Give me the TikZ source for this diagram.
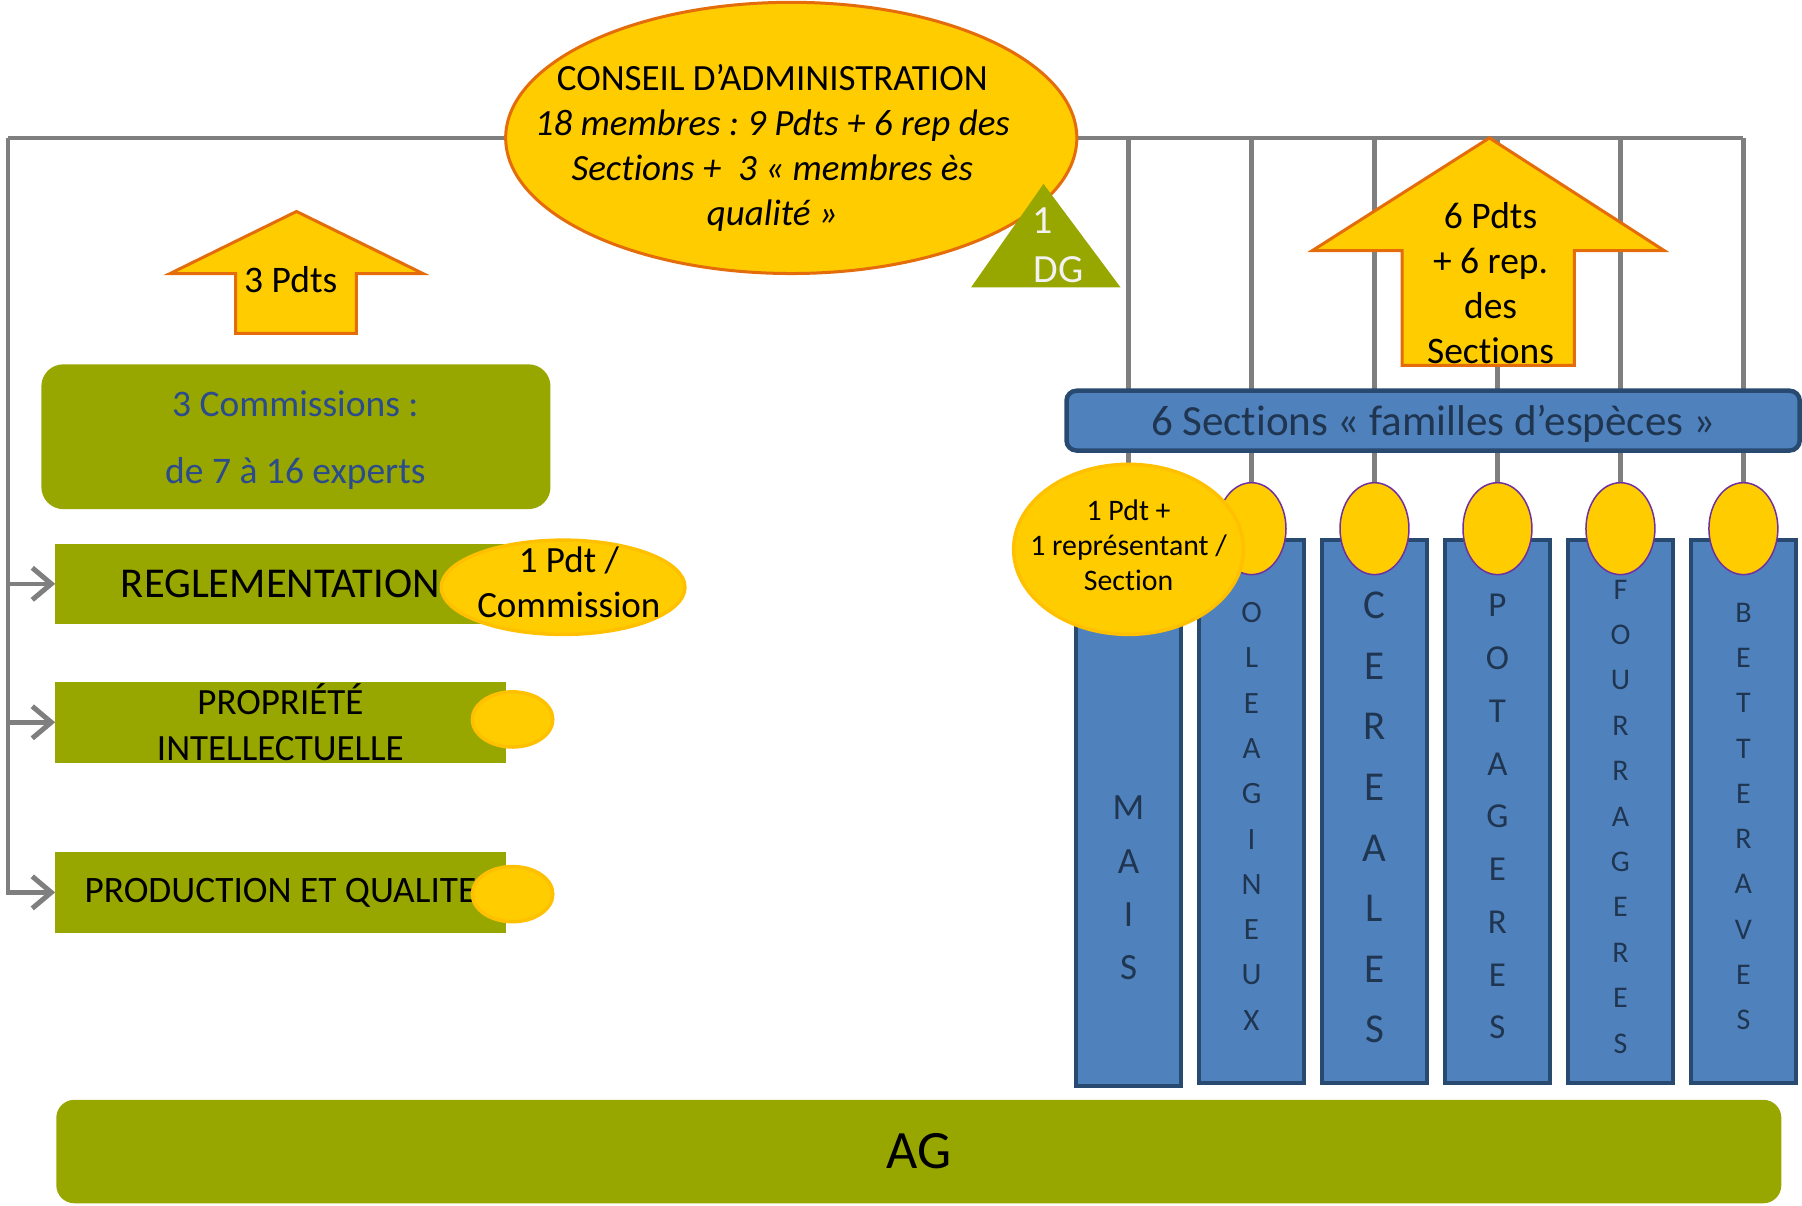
\documentclass[tikz,border=0pt]{standalone}
\usepackage{fontspec}
\setmainfont{Carlito}[Ligatures=NoCommon]
\usetikzlibrary{shapes.geometric,arrows.meta,backgrounds}
\definecolor{cgold}{HTML}{FFCC00}
\definecolor{corange}{HTML}{E46C0A}
\definecolor{cgoldline}{HTML}{FFC000}
\definecolor{cpurple}{HTML}{7030A0}
\definecolor{colive}{HTML}{98A600}
\definecolor{cblue}{HTML}{4F81BD}
\definecolor{cnavy}{HTML}{294A70}
\definecolor{ctext}{HTML}{1F3550}
\definecolor{cgray}{HTML}{7F7F7F}
\definecolor{ccomm}{HTML}{2B4C8C}
\def\U{1.1492pt}
\frenchspacing
\newcommand\myfs[2]{\fontsize{#1}{#2}\selectfont}
\newcommand\colletters[6]{\foreach \l [count=\i from 0] in {#6}{\node[colletter,font=\myfs{#5}{#5}] (#1-\i) at (#2,#3+\i*#4) {\l};}}
\begin{document}
\begin{tikzpicture}[x=1.1492pt,y=-1.1492pt,
  link/.style={draw=cgray,line width=4.5pt},
  linkarrow/.style={link,-{Straight Barb[length=19pt,width=32pt,line width=5pt]}},
  olivebox/.style={rectangle,fill=colive,draw=none,inner sep=0,outer sep=0},
  goldoval/.style={ellipse,fill=cgold,draw=cgoldline,line width=3.5pt,inner sep=0},
  colbox/.style={rectangle,fill=cblue,draw=cnavy,line width=4pt,inner sep=0,minimum width=92*\U},
  colletter/.style={text=ctext,inner sep=0},
  topoval/.style={ellipse,fill=cgold,draw=cpurple,line width=1.5pt,inner sep=0,minimum width=60*\U,minimum height=80*\U},
  uparrow/.style={fill=cgold,draw=corange,line width=3pt,line join=miter},
  txt/.style={inner sep=0,align=center}]
\useasboundingbox (0,0) rectangle (1568,1049);

% Conseil d'administration
\node[ellipse,fill=cgold,draw=corange,line width=3pt,minimum width=497*\U,minimum height=236*\U,inner sep=0] (ca) at (688.5,120) {};
\node[txt,font=\myfs{37}{45}] (catext) at (672,129) {CONSEIL D’ADMINISTRATION\\\textit{18 membres : 9 Pdts + 6 rep des}\\\textit{Sections +~~3 « membres ès}\\\textit{qualité »}};

% DG triangle
\fill[colive] (908,160) -- (975,250) -- (845,250) -- cycle;
\node[txt,text=white!95!black,font=\myfs{40}{40}] (dg1) at (907,192) {1};
\node[txt,text=white!95!black,font=\myfs{40}{40}] (dg2) at (921,235) {DG};

% 3 Pdts arrow
\filldraw[uparrow] (258,184) -- (368,238) -- (310,238) -- (310,290) -- (205,290) -- (205,238) -- (148,238) -- cycle;
\node[txt,font=\myfs{37.5}{45}] (pdts3) at (253,243) {3 Pdts};

% 6 Pdts arrow
\filldraw[uparrow] (1296,120) -- (1448,218) -- (1370,218) -- (1370,318) -- (1220,318) -- (1220,218) -- (1142,218) -- cycle;
\node[txt,font=\myfs{37.5}{45}] (pdts6) at (1297,246) {6 Pdts\\+ 6 rep.\\des\\Sections};

% Sections bar
\node[rectangle,rounded corners=10pt,fill=cblue,draw=cnavy,line width=4.5pt,minimum width=638*\U,minimum height=52*\U,inner sep=0] (bar) at (1247,366) {};
\node[txt,text=ctext,font=\myfs{43}{43}] (bartext) at (1247,369) {6 Sections « familles d’espèces »};

% columns
\node[colbox,minimum height=475*\U] (colM) at (982,707.5) {};
\node[colbox,minimum height=472*\U] (colO) at (1089,706) {};
\node[colbox,minimum height=472*\U] (colC) at (1196,706) {};
\node[colbox,minimum height=472*\U] (colP) at (1303,706) {};
\node[colbox,minimum height=472*\U] (colF) at (1410,706) {};
\node[colbox,minimum height=472*\U] (colB) at (1517,706) {};
\colletters{lm}{982}{703}{46.3}{37}{M,A,I,S}
\colletters{lo}{1089}{533}{39.44}{31}{O,L,E,A,G,I,N,E,U,X}
\colletters{lc}{1196}{527}{52.7}{41}{C,E,R,E,A,L,E,S}
\colletters{lp}{1303}{527}{45.9}{35}{P,O,T,A,G,E,R,E,S}
\colletters{lf}{1410}{513}{39.5}{30}{F,O,U,R,R,A,G,E,R,E,S}
\colletters{lb}{1517}{533}{39.4}{30}{B,E,T,T,E,R,A,V,E,S}

% small circles on columns
\node[topoval] (c2) at (1089,460) {};
\node[topoval] (c3) at (1196,460) {};
\node[topoval] (c4) at (1303,460) {};
\node[topoval] (c5) at (1410,460) {};
\node[topoval] (c6) at (1517,460) {};

% big circle
\node[goldoval,minimum width=200*\U,minimum height=148*\U] (bigc) at (982,478) {};
\node[txt,font=\myfs{29.8}{35}] (bigtext) at (982,474.6) {1 Pdt +\\1 représentant /\\Section};

% Commissions
\node[rectangle,rounded corners=22pt,fill=colive,minimum width=443*\U,minimum height=126*\U,inner sep=0] (comm) at (257.5,380) {};
\node[txt,text=ccomm,font=\myfs{37.5}{67}] (commtext) at (257,383) {3 Commissions :\\de 7 à 16 experts};

\node[olivebox,minimum width=392*\U,minimum height=70*\U,font=\myfs{42.5}{42.5}] (reg) at (244,508) {REGLEMENTATION};
\node[goldoval,minimum width=212*\U,minimum height=82*\U] (pdtc) at (490,511) {};
\node[txt,font=\myfs{37}{45}] (pdttext) at (495,506.3) {1 Pdt /\\Commission};

\node[olivebox,minimum width=392*\U,minimum height=71*\U,align=center,font=\myfs{37}{46}] (prop) at (244,628.5) {PROPRIÉTÉ\\INTELLECTUELLE};
\node[goldoval,minimum width=70*\U,minimum height=48*\U] (propc) at (446,626) {};

\node[olivebox,minimum width=392*\U,minimum height=71*\U,font=\myfs{37.3}{37.3}] (prod) at (244,776.5) {PRODUCTION ET QUALITE};
\node[goldoval,minimum width=70*\U,minimum height=48*\U] (prodc) at (446,778) {};

% AG
\node[rectangle,rounded corners=18pt,fill=colive,minimum width=1501*\U,minimum height=90*\U,inner sep=0,font=\myfs{54}{54}] (ag) at (799.5,1002) {AG};

% connectors
\begin{scope}[on background layer]
\coordinate (TL) at (7,120);
\coordinate (TR) at (1517,120);
\draw[link] (TL) -- (TR);
\draw[link] (982,120) -- (bigc.north);
\draw[link] (1089,120) -- (c2.north);
\draw[link] (1196,120) -- (c3.north);
\draw[link] (1303,120) -- (c4.north);
\draw[link] (1410,120) -- (c5.north);
\draw[link] (TR) -- (c6.north);
\draw[linkarrow] (TL) |- (prod.west);
\draw[linkarrow] (TL |- reg.west) -- (reg.west);
\draw[linkarrow] (TL |- prop.west) -- (prop.west);
\end{scope}
\end{tikzpicture}
\end{document}
